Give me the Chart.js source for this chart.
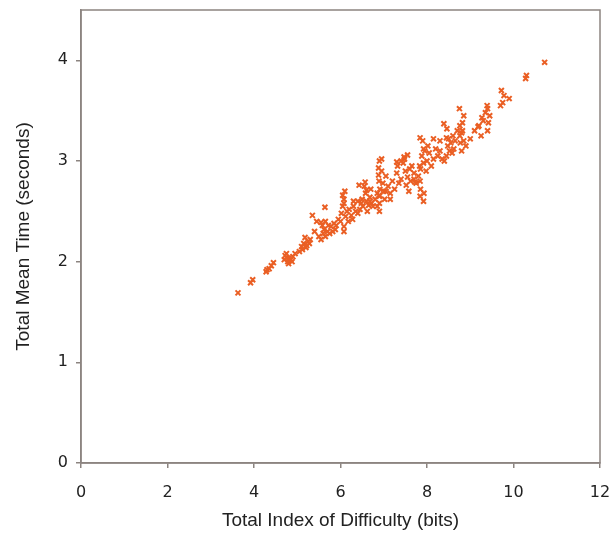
<!DOCTYPE html>
<html>
<head>
<meta charset="utf-8">
<script src="https://cdn.jsdelivr.net/npm/chart.js@4"></script>
<style>
  html, body { margin: 0; padding: 0; background: #fff; }
  #wrap { width: 613px; height: 534px; }
</style>
</head>
<body>
<div id="wrap"><canvas id="scatterChart" width="613" height="534"></canvas></div>
<script>
// Total index of difficulty (bits) for each trial condition
const indexOfDifficulty = [
    3.63, 3.92, 3.97, 4.28, 4.30, 4.35, 4.40, 4.45, 4.70, 4.72,
    4.75, 4.78, 4.80, 4.82, 4.85, 4.90, 4.95, 5.05, 5.12, 5.15,
    5.18, 5.20, 5.22, 5.25, 5.30, 5.35, 5.45, 5.50, 5.55, 5.58,
    5.60, 5.62, 5.65, 5.70, 5.72, 5.75, 5.78, 5.85, 5.90, 5.95,
    6.00, 6.02, 6.05, 6.05, 6.08, 6.10, 6.12, 6.15, 6.18, 6.20,
    6.25, 6.30, 6.35, 6.40, 6.45, 6.48, 6.50, 6.52, 6.55, 6.58,
    6.60, 6.62, 6.65, 6.68, 6.70, 6.72, 6.75, 6.80, 6.85, 6.90,
    6.95, 6.95, 6.98, 7.00, 7.02, 7.05, 7.10, 7.15, 7.20, 7.25,
    7.30, 7.32, 7.35, 7.40, 7.45, 7.48, 7.50, 7.52, 7.55, 7.58,
    7.60, 7.62, 7.65, 7.70, 7.75, 7.80, 7.85, 7.88, 7.90, 7.92,
    7.95, 7.98, 8.00, 8.02, 8.05, 8.10, 8.15, 8.20, 8.25, 8.30,
    8.40, 8.45, 8.48, 8.50, 8.52, 8.55, 8.58, 8.60, 8.62, 8.65,
    8.70, 8.75, 8.80, 8.85, 8.90, 9.00, 9.10, 9.20, 9.30, 9.35,
    9.40, 9.40, 9.42, 9.45, 9.70, 9.72, 9.75, 9.78, 9.90, 10.28,
    10.30, 10.72, 6.90, 7.40, 7.55, 8.15, 8.45, 6.40, 6.85, 7.15,
    5.40, 5.65, 6.28, 7.05, 7.70, 8.35, 8.80, 9.25,
    6.90, 6.90, 6.90, 6.91, 6.89, 6.88, 6.88, 6.57, 6.43, 6.60,
    6.08, 6.08, 6.08, 6.30, 6.68, 5.64, 5.55, 7.84, 7.84, 7.85,
    7.84, 7.83, 7.92, 7.93, 7.92, 7.47, 7.30, 7.72, 8.76, 8.76,
    8.77, 8.85, 8.82, 8.82, 9.27, 9.18, 9.39, 8.39, 8.46, 8.30,
    4.88, 4.76, 5.10, 5.28, 5.82, 5.88
];

// Total mean movement time (seconds), same order as above
const meanTime = [
    1.69, 1.79, 1.82, 1.90, 1.92, 1.93, 1.96, 1.99, 2.02, 2.06,
    2.08, 2.00, 1.98, 2.04, 2.02, 2.05, 2.08, 2.10, 2.12, 2.18,
    2.24, 2.14, 2.16, 2.20, 2.22, 2.46, 2.40, 2.25, 2.22, 2.36,
    2.28, 2.32, 2.25, 2.30, 2.36, 2.28, 2.35, 2.38, 2.36, 2.42,
    2.40, 2.48, 2.55, 2.66, 2.62, 2.70, 2.45, 2.50, 2.40, 2.52,
    2.46, 2.55, 2.50, 2.48, 2.52, 2.58, 2.62, 2.55, 2.75, 2.68,
    2.60, 2.50, 2.56, 2.64, 2.72, 2.58, 2.55, 2.62, 2.68, 2.66,
    3.02, 2.90, 2.78, 2.70, 2.62, 2.85, 2.75, 2.68, 2.80, 2.72,
    2.88, 2.95, 2.78, 2.82, 2.98, 3.02, 2.90, 2.76, 2.84, 2.70,
    2.92, 2.80, 2.95, 2.88, 2.78, 2.85, 2.92, 3.05, 3.20, 2.98,
    3.10, 2.90, 3.00, 3.15, 3.08, 2.95, 3.02, 3.12, 3.05, 3.10,
    3.00, 3.05, 3.15, 3.22, 3.10, 3.18, 3.08, 3.25, 3.12, 3.20,
    3.30, 3.52, 3.28, 3.20, 3.15, 3.22, 3.30, 3.35, 3.40, 3.48,
    3.52, 3.30, 3.38, 3.45, 3.55, 3.70, 3.58, 3.65, 3.62, 3.82,
    3.85, 3.98, 3.00, 3.00, 3.06, 3.22, 3.23, 2.60, 2.55, 2.62,
    2.30, 2.40, 2.42, 2.70, 2.82, 3.02, 3.10, 3.25,
    2.50, 2.58, 2.65, 2.72, 2.80, 2.86, 2.93, 2.79, 2.76, 2.71,
    2.30, 2.35, 2.58, 2.60, 2.60, 2.54, 2.39, 3.23, 2.65, 2.72,
    2.80, 2.95, 2.60, 2.68, 3.12, 3.04, 2.99, 2.79, 3.35, 3.25,
    3.18, 3.45, 3.38, 3.30, 3.43, 3.34, 3.55, 3.37, 3.32, 3.20,
    2.00, 2.04, 2.15, 2.18, 2.30, 2.32
];

const xTicks = [0, 2, 4, 6, 8, 10, 12];
const yTicks = [0, 1, 2, 3, 4];

const points = indexOfDifficulty.map((x, i) => ({ x: x, y: meanTime[i] }));

const axisColor = '#8c8480';

// draws the top and right edges so the plot sits in a closed box
const frameBox = {
    id: 'frameBox',
    afterDraw(chart) {
        const a = chart.chartArea;
        const ctx = chart.ctx;
        ctx.save();
        ctx.strokeStyle = axisColor;
        ctx.lineWidth = 1.5;
        ctx.strokeRect(a.left, a.top, a.right - a.left, a.bottom - a.top);
        ctx.restore();
    }
};

const ctx = document.getElementById('scatterChart').getContext('2d');
new Chart(ctx, {
    type: 'scatter',
    data: {
        datasets: [{
            label: 'Trials',
            data: points,
            pointStyle: 'crossRot',
            pointRadius: 3.5,
            pointBorderWidth: 2,
            borderColor: '#ea5f24',
            backgroundColor: '#ea5f24'
        }]
    },
    options: {
        responsive: false,
        animation: false,
        layout: {
            padding: { left: 0, right: 13, top: 10, bottom: 0 }
        },
        plugins: {
            legend: { display: false },
            tooltip: { enabled: false }
        },
        scales: {
            x: {
                type: 'linear',
                min: 0,
                max: 12,
                afterBuildTicks: axis => { axis.ticks = xTicks.map(v => ({ value: v })); },
                afterFit: axis => {
                    axis.height = 71;
                    axis.paddingLeft = 0;
                    axis.paddingRight = 0;
                },
                grid: {
                    drawOnChartArea: false,
                    tickLength: 5,
                    color: axisColor,
                    lineWidth: 1.5
                },
                border: { color: axisColor, width: 1.5 },
                ticks: {
                    padding: 15,
                    maxRotation: 0,
                    color: '#222',
                    font: { family: 'DejaVu Sans', size: 16 }
                },
                title: {
                    display: true,
                    text: 'Total Index of Difficulty (bits)',
                    color: '#222',
                    font: { family: 'Liberation Sans', size: 19 },
                    padding: { top: 4, bottom: 2 }
                }
            },
            y: {
                type: 'linear',
                min: 0,
                max: 4.5,
                afterBuildTicks: axis => { axis.ticks = yTicks.map(v => ({ value: v })); },
                afterFit: axis => {
                    axis.width = 81;
                    axis.paddingTop = 0;
                    axis.paddingBottom = 0;
                },
                grid: {
                    drawOnChartArea: false,
                    tickLength: 5,
                    color: axisColor,
                    lineWidth: 1.5
                },
                border: { color: axisColor, width: 1.5 },
                ticks: {
                    padding: 8,
                    color: '#222',
                    font: { family: 'DejaVu Sans', size: 16 }
                },
                title: {
                    display: true,
                    text: 'Total Mean Time (seconds)',
                    color: '#222',
                    font: { family: 'Liberation Sans', size: 19 },
                    padding: { top: 12, bottom: 4 }
                }
            }
        }
    },
    plugins: [frameBox]
});
</script>
</body>
</html>
